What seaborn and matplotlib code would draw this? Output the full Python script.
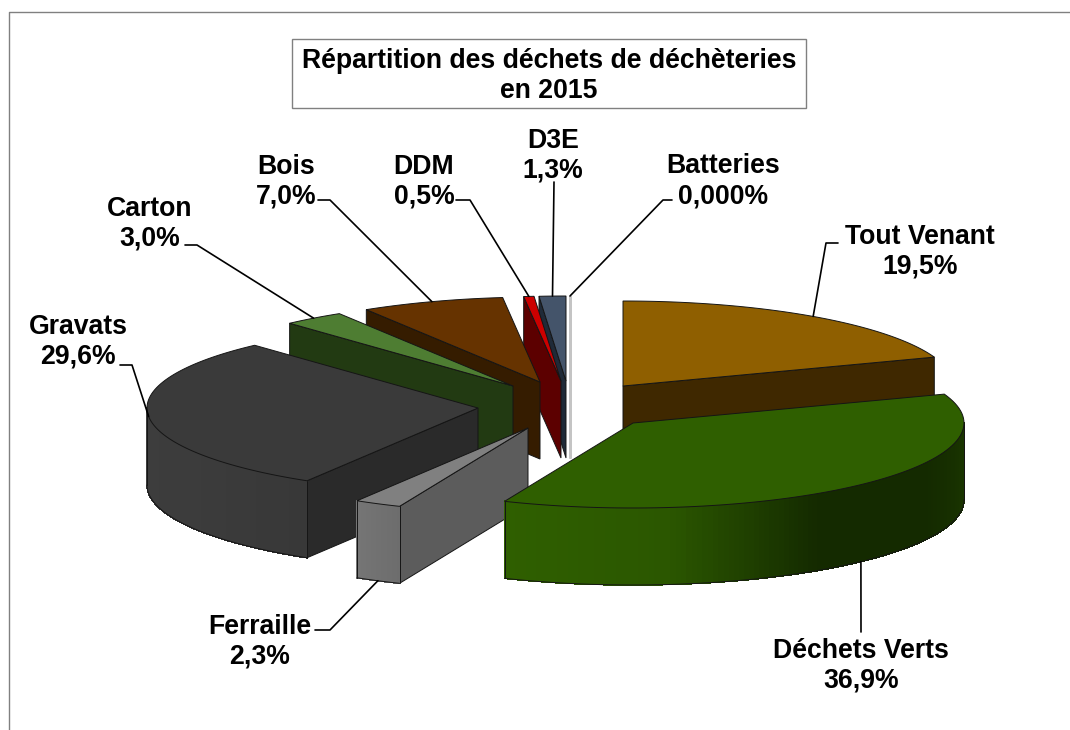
# Repartition des dechets - exploded 3D style pie drawn on a pixel-like axis
import numpy as np
import matplotlib
matplotlib.use("Agg")
import matplotlib.pyplot as plt
import seaborn as sns

# =============================
# Data
# =============================
categories = ['Tout Venant', 'Déchets Verts', 'Ferraille', 'Gravats', 'Carton',
              'Bois', 'DDM', 'D3E', 'Batteries']
shares = [19.5, 36.9, 2.3, 29.6, 3.0, 7.0, 0.5, 1.3, 0.0]
share_labels = ['19,5%', '36,9%', '2,3%', '29,6%', '3,0%', '7,0%', '0,5%', '1,3%', '0,000%']

# =============================
# Layout and colours
# =============================
rx, ry, depth = 331, 85, 77
apex_x = [623, 633, 528, 478, 513, 540, 561, 566, 570]
apex_y = [386, 423, 428, 408, 386, 382, 381, 381, 381]
top_colors = ['#8f5f00', '#2f5f00', '#808080', '#3a3a3a', '#4e7d32',
              '#663300', '#cc0000', '#44546a', '#c4c4c4']
face_colors = ['#3f2800', '#1a3300', '#5c5c5c', '#2a2a2a', '#223a12',
               '#351c00', '#5c0000', '#1f2a38', '#c4c4c4']
# wall colours, left to right as seen on the picture
rim_colors = [['#3f2800', '#3f2800'],
              ['#2f5f00', '#2b5700', '#142a00', '#142a00', '#1b3700'],
              ['#757575', '#6d6d6d'],
              ['#3d3d3d', '#3c3c3c', '#383838'],
              ['#223a12', '#223a12'], ['#351c00', '#351c00'], ['#5c0000', '#5c0000'],
              ['#1f2a38', '#1f2a38'], ['#c4c4c4', '#c4c4c4']]
draw_order = [8, 7, 6, 5, 4, 0, 3, 2, 1]
label_x = [920, 861, 260, 78, 150, 286, 424, 553, 723]
label_y = [252, 666, 642, 342, 224, 182, 182, 156, 181]
elbow_start = [(838, 243), (861, 632), (315, 630), (120, 365), (185, 245),
               (318, 200), (456, 200), (554, 182), (672, 200)]
elbow_mid = [(826, 243), (861, 632), (330, 630), (132, 365), (197, 245),
             (330, 200), (470, 200), (554, 182), (663, 200)]

edge = '#151515'

sns.set_theme(style="white")
plt.rcParams['font.family'] = ['Liberation Sans', 'DejaVu Sans']

fig = plt.figure(figsize=(10.7, 7.3), dpi=100, facecolor='white')
ax = fig.add_axes([0, 0, 1, 1])
ax.set_xlim(0, 1070)
ax.set_ylim(730, 0)
ax.axis('off')

# chart frame: only top and left show in the source picture
ax.plot([9, 9, 1070], [730, 12, 12], color='#808080', lw=1.0)

# =============================
# Slices
# =============================
total = sum(shares)
bounds = np.concatenate([[0], np.cumsum(shares)]) / total * 2 * np.pi


def rim(i, t):
    return apex_x[i] + rx * np.sin(t), apex_y[i] - ry * np.cos(t)


for i in draw_order:
    t0, t1 = bounds[i], bounds[i + 1]
    ax_, ay_ = apex_x[i], apex_y[i]
    zo = draw_order.index(i) * 10 + 2
    line_col = top_colors[i] if shares[i] == 0 else edge
    line_w = 1.8 if shares[i] == 0 else 0.7

    # radial faces: only the ones that sit below an edge turned to the viewer
    for t, seen in ((t0, t0 > np.pi), (t1, t1 < np.pi)):
        if seen:
            x, y = rim(i, t)
            ax.fill([ax_, x, x, ax_], [ay_, y, y + depth, ay_ + depth],
                    facecolor=face_colors[i], edgecolor=line_col, lw=line_w, zorder=zo)

    # outer wall, only the part turned to the viewer
    a, b = max(t0, np.pi / 2), min(t1, 3 * np.pi / 2)
    if b > a:
        ts = np.linspace(a, b, 121)
        # angle runs right to left along the front, so flip the palette
        strip_cols = sns.blend_palette(rim_colors[i], n_colors=120)[::-1]
        for k in range(120):
            xa, ya = rim(i, ts[k])
            xb, yb = rim(i, ts[k + 1])
            ax.fill([xa, xb, xb, xa], [ya, yb, yb + depth, ya + depth], facecolor=strip_cols[k],
                    edgecolor=strip_cols[k], lw=0.5, antialiased=False, zorder=zo + 1)
        wx, wy = rim(i, ts)
        ax.plot(wx, wy + depth, color=edge, lw=0.7, zorder=zo + 2)
        ax.plot([wx[0], wx[0]], [wy[0], wy[0] + depth], color=edge, lw=0.7, zorder=zo + 2)
        ax.plot([wx[-1], wx[-1]], [wy[-1], wy[-1] + depth], color=edge, lw=0.7, zorder=zo + 2)

    # top surface
    ts = np.linspace(t0, t1, 80)
    xs, ys = rim(i, ts)
    ax.fill(np.r_[ax_, xs], np.r_[ay_, ys], facecolor=top_colors[i], edgecolor=line_col,
            lw=line_w, zorder=zo + 3)

# =============================
# Labels and leader lines
# =============================
for i, name in enumerate(categories):
    mid = (bounds[i] + bounds[i + 1]) / 2
    x, y = rim(i, mid)
    if np.cos(mid) < -0.3:
        y += depth
    ax.plot([elbow_start[i][0], elbow_mid[i][0], x], [elbow_start[i][1], elbow_mid[i][1], y],
            color='black', lw=1.2, zorder=200)
    ax.text(label_x[i], label_y[i], name + '\n' + share_labels[i], ha='center', va='center',
            fontsize=19.2, fontweight='bold', color='black', linespacing=1.2, zorder=201)

# title box
ax.text(549, 76, 'Répartition des déchets de déchèteries\nen 2015', ha='center', va='center',
        fontsize=19.2, fontweight='bold', color='black', linespacing=1.2, zorder=201)
ax.fill([292, 806, 806, 292], [39, 39, 108, 108], facecolor='none', edgecolor='#808080', lw=1.0, zorder=200)

fig.savefig('out.png', dpi=100)
